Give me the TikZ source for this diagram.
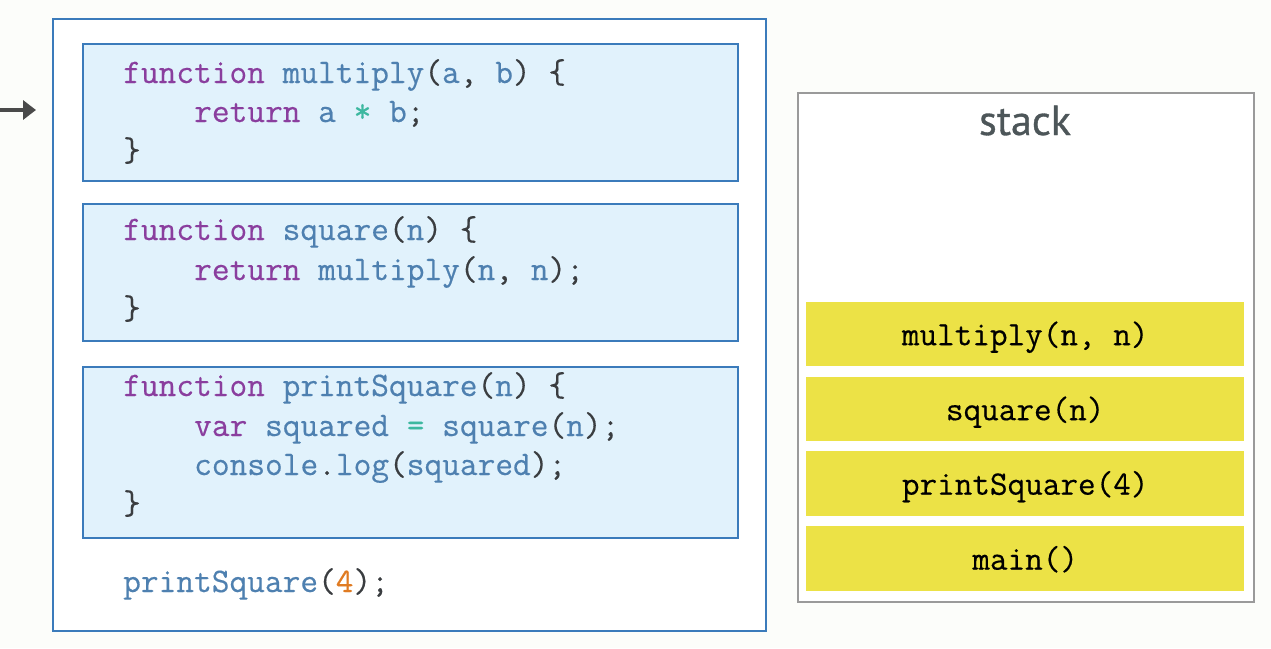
\documentclass[tikz,border=0pt]{standalone}
\usepackage{fontspec}
\usetikzlibrary{arrows.meta}
\newfontfamily\labfont[FakeBold=0.8]{PT Sans}
\newfontfamily\codefont[FakeBold=0.4]{Latin Modern Mono}
\definecolor{bgc}{HTML}{FCFDFA}
\definecolor{kwc}{HTML}{8A3E9E}
\definecolor{idc}{HTML}{4E80B0}
\definecolor{pnc}{HTML}{3A3D40}
\definecolor{opc}{HTML}{3DB8A0}
\definecolor{nmc}{HTML}{E07B22}
\definecolor{bluebd}{HTML}{3B7BBB}
\definecolor{codefill}{HTML}{E1F2FC}
\definecolor{stackbd}{HTML}{9A9A9A}
\definecolor{framefill}{HTML}{ECE246}
\definecolor{stacktxt}{HTML}{4D5659}
\definecolor{arrc}{HTML}{4A4A4A}
\newcommand\kwd[1]{\textcolor{kwc}{#1}}
\newcommand\cid[1]{\textcolor{idc}{#1}}
\newcommand\opr[1]{\textcolor{opc}{#1}}
\newcommand\numb[1]{\textcolor{nmc}{#1}}
\begin{document}
\begin{tikzpicture}[x=1pt,y=-1pt,
  outerbox/.style={draw=bluebd, line width=1.8pt, fill=white, anchor=north west, inner sep=0pt},
  codebox/.style={draw=bluebd, line width=1.8pt, fill=codefill, anchor=north west, inner sep=0pt, minimum width=655pt},
  codeline/.style={anchor=base west, inner sep=0pt, text=pnc, font=\codefont\fontsize{34.4}{38}\selectfont},
  stackbox/.style={draw=stackbd, line width=1.6pt, fill=white, anchor=north west, inner sep=0pt},
  framebox/.style={fill=framefill, anchor=north west, inner sep=0pt, minimum width=438pt,
     text=black, font=\codefont\fontsize{34.2}{38}\selectfont, text height=24pt, text depth=2pt},
  stacklabel/.style={anchor=base, inner sep=0pt, text=stacktxt, font=\labfont\fontsize{42}{46}\selectfont},
  arr/.style={draw=arrc, line width=4pt, -{Triangle[length=13pt,width=19pt]}}
]
\useasboundingbox[fill=bgc] (0,0) rectangle (1271,648);

% arrow
\coordinate (as) at (0,110);
\coordinate (ae) at (36,110);
\draw[arr] (as) -- (ae);

% program frame
\node[outerbox, minimum width=713pt, minimum height=612pt] (prog) at (52,18) {};
\node[codebox, minimum height=137pt] (b1) at (82,43) {};
\node[codebox, minimum height=137pt] (b2) at (82,203) {};
\node[codebox, minimum height=171pt] (b3) at (82,366) {};

% box 1
\node[codeline] (l11) at (123,83) {\kwd{function} \cid{multiply}(\cid{a}, \cid{b}) \{};
\node[codeline] (l12) at (194,122) {\kwd{return} \cid{a} \opr{*} \cid{b};};
\node[codeline] (l13) at (123,161) {\}};

% box 2
\node[codeline] (l21) at (123,240) {\kwd{function} \cid{square}(\cid{n}) \{};
\node[codeline] (l22) at (194,280) {\kwd{return} \cid{multiply}(\cid{n}, \cid{n});};
\node[codeline] (l23) at (123,319) {\}};

% box 3
\node[codeline] (l31) at (123,396) {\kwd{function} \cid{printSquare}(\cid{n}) \{};
\node[codeline] (l32) at (194,436) {\kwd{var} \cid{squared} \opr{=} \cid{square}(\cid{n});};
\node[codeline] (l33) at (194,475) {\cid{console}.\cid{log}(\cid{squared});};
\node[codeline] (l34) at (123,514) {\}};

% call
\node[codeline] (l41) at (123,592) {\cid{printSquare}(\numb{4});};

% stack
\node[stackbox, minimum width=456pt, minimum height=509pt] (stack) at (797,92) {};
\node[stacklabel] (stitle) at (1025,135) {stack};
\node[framebox, minimum height=64pt] (f1) at (806,302) {multiply(n, n)};
\node[framebox, minimum height=64pt] (f2) at (806,377) {square(n)};
\node[framebox, minimum height=65pt] (f3) at (806,451) {printSquare(4)};
\node[framebox, minimum height=65pt] (f4) at (806,526) {main()};
\end{tikzpicture}
\end{document}
